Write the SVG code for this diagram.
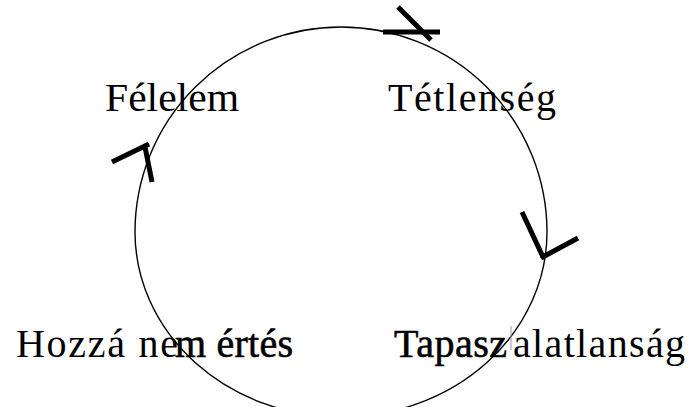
<svg xmlns="http://www.w3.org/2000/svg" width="691" height="407" viewBox="0 0 691 407">
<style>
.lbl{font-family:"Liberation Serif","Times New Roman",serif;font-size:40px;fill:#000}
.dark{stroke:#000;stroke-width:0.6}
.cyc{fill:none;stroke:#000;stroke-width:1.4}
.ah{stroke:#000;stroke-width:5;fill:none;stroke-linecap:butt}
</style>
<rect width="691" height="407" fill="#fff"/>
<g id="connectors">
<path class="cyc" d="M135,232 A206,205 0 0 1 547,232 A206,185 0 0 1 135,232 Z"/>
<line class="ah" x1="383" y1="32" x2="440" y2="32"/>
<line class="ah" x1="398" y1="7" x2="431" y2="40"/>
<line class="ah" x1="522" y1="212" x2="543" y2="257"/>
<line class="ah" x1="541" y1="258" x2="578" y2="238"/>
<line class="ah" x1="112" y1="162" x2="149" y2="144"/>
<line class="ah" x1="145" y1="147" x2="152" y2="182"/>
</g>
<g id="node-felelem"><text class="lbl" x="105" y="111" textLength="134" lengthAdjust="spacingAndGlyphs">Félelem</text></g>
<g id="node-tetlenseg"><text class="lbl" x="388" y="111" textLength="168" lengthAdjust="spacing">Tétlenség</text></g>
<g id="node-tapasztalatlansag">
<text class="lbl dark" x="394" y="357" textLength="113" lengthAdjust="spacing">Tapasz</text>
<line x1="511" y1="326" x2="511" y2="350" stroke="#999" stroke-width="1"/>
<text class="lbl" x="513" y="357" textLength="172" lengthAdjust="spacing">alatlanság</text>
</g>
<g id="node-hozza-nem-ertes">
<text class="lbl" x="16" y="357" textLength="162" lengthAdjust="spacing">Hozzá ne</text>
<text class="lbl dark" x="175" y="357" textLength="118" lengthAdjust="spacing">m értés</text>
</g>
</svg>
